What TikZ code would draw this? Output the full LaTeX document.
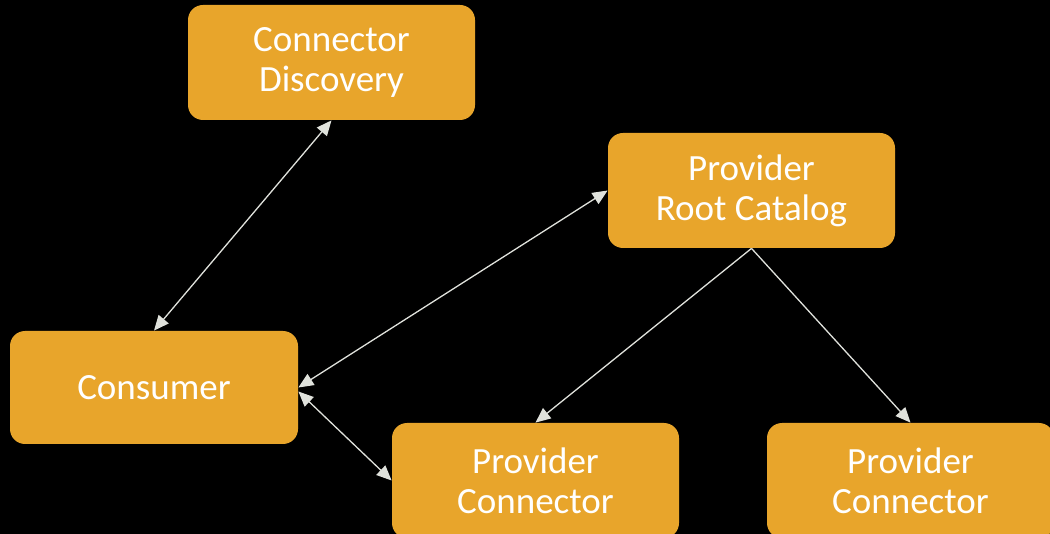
\documentclass[tikz,border=0pt]{standalone}
\usepackage{fontspec}
\setmainfont{Carlito}
\usetikzlibrary{arrows.meta}
\definecolor{boxorange}{HTML}{E8A52B}
\definecolor{linegray}{HTML}{E0E2DC}
\begin{document}
\begin{tikzpicture}[x=1pt, y=-1pt, thick,
    main/.style = {draw=none, fill=boxorange, rounded corners=15pt, minimum width=287pt, minimum height=115pt, text=white, align=center, font=\fontsize{37}{40}\selectfont},
    link/.style = {draw=linegray, line width=1.3pt, >={Triangle[length=15pt, width=13pt]}}]
    \fill[black] (0,0) rectangle (1050,534);
    \useasboundingbox (0,0) rectangle (1050,534);

    \node[main] (discovery) at (331.5,62.5) {Connector\\Discovery};
    \node[main] (catalog) at (751.5,190.5) {Provider\\Root Catalog};
    \node[main, minimum width=288pt, minimum height=113pt] (consumer) at (154,387.5) {Consumer};
    \node[main] (connA) at (535.5,480.5) {Provider\\Connector};
    \node[main] (connB) at (910.5,480.5) {Provider\\Connector};

    \draw[link, <->] (discovery.south) -- (consumer.north);
    \draw[link, <->] (consumer.east) -- (catalog.west);
    \draw[link, <->] ([yshift=-4pt]consumer.east) -- (connA.west);
    \draw[link, ->] (catalog.south) -- (connA.north);
    \draw[link, ->] (catalog.south) -- (connB.north);
\end{tikzpicture}
\end{document}
